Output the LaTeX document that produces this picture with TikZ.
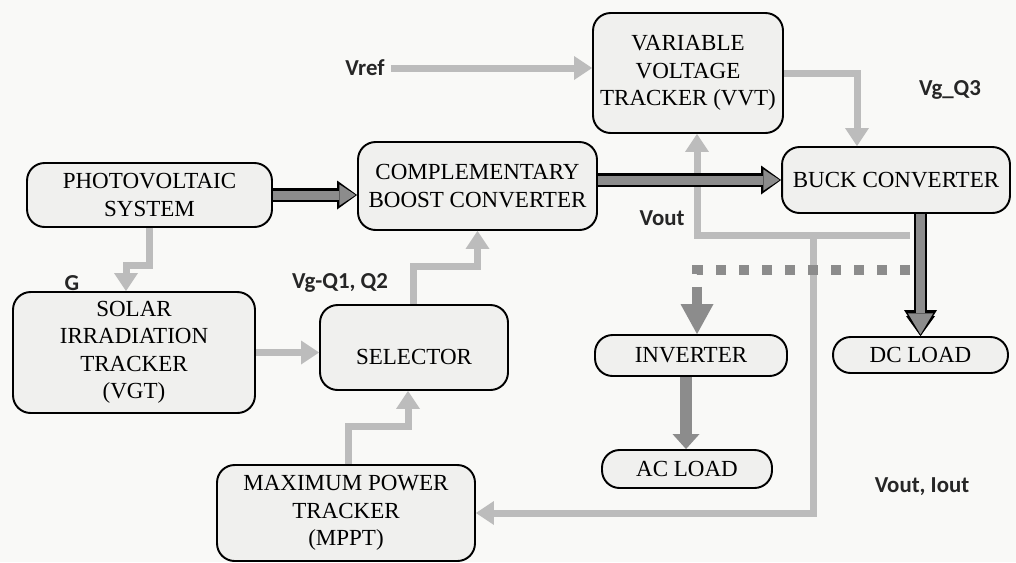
\documentclass[tikz,border=0pt]{standalone}
\usepackage{fontspec}
\setmainfont{Liberation Serif}
\newfontfamily\lblfont{Carlito}
\usetikzlibrary{
    arrows.meta,
    calc
}
\definecolor{paper}{RGB}{249,249,247}
\definecolor{boxfill}{RGB}{240,240,238}
\definecolor{sig}{RGB}{188,188,188}
\definecolor{pwr}{RGB}{140,140,140}
\tikzset{
  blk/.style   = {draw, rounded corners=10pt, line width=1.1pt, fill=boxfill,
                  align=center, inner sep=2pt,
                  font=\fontsize{13.1}{15.6}\selectfont},
  lbl/.style   = {font=\lblfont\bfseries\fontsize{13}{15}\selectfont,
                  text=black!85},
  sarr/.style  = {draw=sig, line width=0.14cm,
                  -{Triangle[length=0.36cm, width=0.48cm, line width=0pt]}},
  parr/.style  = {draw=pwr, line width=0.18cm, shorten >=0.9pt,
                  -{Triangle[length=0.32cm, width=0.42cm, line width=0pt]},
                  preaction={draw=black, line width=0.27cm, shorten >=0pt,
                  -{Triangle[length=0.40cm, width=0.58cm, line width=0pt]}}},
  parrL/.style = {parr,
                  -{Triangle[length=0.42cm, width=0.50cm, line width=0pt]},
                  preaction={draw=black, line width=0.27cm, shorten >=0pt,
                  -{Triangle[length=0.52cm, width=0.66cm, line width=0pt]}}},
  dotln/.style = {draw=pwr, line width=0.2cm, dash pattern=on 0.2cm off 0.26cm},
  iarr/.style  = {draw=pwr, line width=0.2cm,
                  -{Triangle[length=0.6cm, width=0.66cm, line width=0pt]}},
  acarr/.style = {draw=pwr, line width=0.24cm,
                  -{Triangle[length=0.3cm, width=0.54cm, line width=0pt]}}
}

\begin{document}
\begin{tikzpicture}[x=0.02cm, y=-0.02cm]
    \fill[paper] (0,0) rectangle (1016,562);
    \useasboundingbox (0,0) rectangle (1016,562);

    % blocks
    \node[blk, minimum width=4.9cm,  minimum height=1.28cm](pv)    at (149.5,195) {PHOTOVOLTAIC\\SYSTEM};
    \node[blk, minimum width=4.78cm, minimum height=1.76cm](boost) at (477.5,186) {COMPLEMENTARY\\BOOST CONVERTER};
    \node[blk, minimum width=3.8cm,  minimum height=2.4cm] (vvt)   at (688,73)    {VARIABLE\\VOLTAGE\\TRACKER (VVT)};
    \node[blk, minimum width=4.56cm, minimum height=1.32cm](buck)  at (896,180)   {BUCK CONVERTER};
    \node[blk, minimum width=4.84cm, minimum height=2.42cm](sit)   at (134,352.5) {SOLAR\\IRRADIATION\\TRACKER\\(VGT)};
    \node[blk, minimum width=3.76cm, minimum height=1.7cm, text height=20pt](sel) at (414,347.5) {SELECTOR};
    \node[blk, minimum width=5.16cm, minimum height=1.92cm](mppt)  at (346,513)   {MAXIMUM POWER\\TRACKER\\(MPPT)};
    \node[blk, minimum width=3.84cm, minimum height=0.82cm](inv)   at (691,355.5) {INVERTER};
    \node[blk, minimum width=3.4cm,  minimum height=0.76cm](ac)    at (687,469)   {AC LOAD};
    \node[blk, minimum width=3.5cm,  minimum height=0.72cm](dc)    at (920.5,355) {DC LOAD};

    % signal names
    \node[lbl](vref)  at (365,68)  {Vref};
    \node[lbl](vgq3)  at (950,90)  {Vg\_Q3};
    \node[lbl](vout)  at (662,218) {Vout};
    \node[lbl](g)     at (72,283)  {G};
    \node[lbl](vgq12) at (340,283) {Vg-Q1, Q2};
    \node[lbl](viout) at (922,487) {Vout, Iout};

    % control paths
    \coordinate (fb)  at (910,235);
    \coordinate (fbm) at (813,235);
    \draw[sarr](vref.east) -- (vref.east -| vvt.west);
    \draw[sarr](vvt.east) -| ([xshift=-0.78cm]buck.north);
    \draw[sarr](fb) -| ([xshift=0.18cm]vvt.south);
    \draw[sarr](fbm) |- (mppt.east);
    \draw[sarr](pv.south) -- ++(0,38) -| ([xshift=-0.16cm]sit.north);
    \draw[sarr](sit.east) -- (sit.east -| sel.west);
    \draw[sarr]([xshift=-0.02cm]sel.north) -- ++(0,-38) -| (boost.south);
    \draw[sarr]([xshift=0.04cm]mppt.north) -- ++(0,-38) -| ([xshift=-0.12cm]sel.south);

    % ac branch
    \coordinate (dsplit) at (910,270);
    \coordinate (dbend)  at (697,290);
    \draw[dotln](dsplit) -| (dbend);
    \draw[iarr](dbend) -- (dbend |- inv.north);
    \draw[acarr]([xshift=-0.1cm]inv.south) -- ([xshift=-0.1cm]inv.south |- ac.north);

    % power paths
    \draw[parr](pv.east) -- (pv.east -| boost.west);
    \draw[parr](buck.west -| boost.east) -- (buck.west);
    \draw[parrL](dc.north |- buck.south) -- (dc.north);
\end{tikzpicture}
\end{document}
